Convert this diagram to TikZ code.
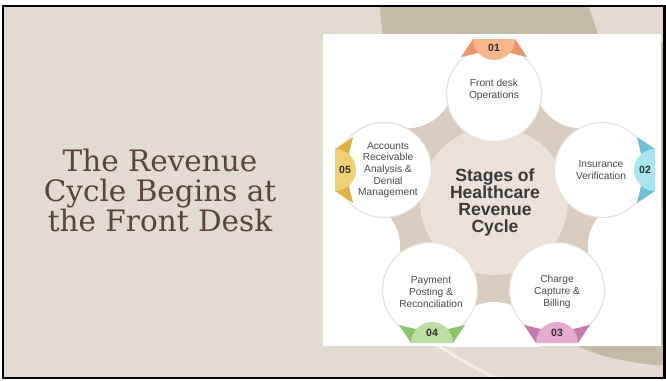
\documentclass[tikz,border=0pt]{standalone}
\usepackage{fontspec}
\setmainfont{Liberation Sans}
\newfontfamily\titlefont{DejaVu Serif}
\usetikzlibrary{calc}
\definecolor{bgc}{HTML}{E3DBD1}
\definecolor{olivec}{HTML}{C3BBA5}
\definecolor{creamc}{HTML}{F3EDE6}
\definecolor{titlec}{HTML}{5B4539}
\definecolor{tanc}{HTML}{D9CBBE}
\definecolor{centc}{HTML}{EBE1D8}
\definecolor{shadowc}{HTML}{E6E1DB}
\definecolor{txtc}{HTML}{4A4A4A}
\definecolor{numc}{HTML}{2F2F2F}
\definecolor{ctrc}{HTML}{3A3A3A}
\definecolor{oL}{HTML}{F9B68D}\definecolor{oD}{HTML}{E8956B}
\definecolor{bL}{HTML}{A9E4F1}\definecolor{bD}{HTML}{6CC2D6}
\definecolor{pL}{HTML}{E4AAD2}\definecolor{pD}{HTML}{C67BB0}
\definecolor{gL}{HTML}{BADDA3}\definecolor{gD}{HTML}{8CC46C}
\definecolor{yL}{HTML}{F2CF73}\definecolor{yD}{HTML}{DDB04A}
\newcommand\numtab[5]{%
  \begin{scope}[shift={(#1,#2)},rotate=#3]
    \fill[#5] (-21,0) -- (-33,18) -- (-12,13) -- cycle;
    \fill[#5] (21,0) -- (33,18) -- (12,13) -- cycle;
    \fill[#4] (-21,0) arc (180:0:21) -- cycle;
  \end{scope}}
\begin{document}
\begin{tikzpicture}[x=1pt,y=-1pt,
  stagecircle/.style={circle,fill=white,draw=shadowc,line width=1.2pt,minimum size=95pt,inner sep=0pt},
  stagetext/.style={font=\fontsize{10.2}{11.7}\selectfont,text=txtc,align=center,inner sep=0pt},
  numtext/.style={font=\bfseries\fontsize{10.5}{12}\selectfont,text=numc,inner sep=0pt},
  titleline/.style={font=\titlefont\fontsize{29.5}{30}\selectfont,text=titlec,anchor=base,inner sep=0pt}]
\useasboundingbox (0,0) rectangle (666,380);
\fill[white] (0,0) rectangle (666,380);
\begin{scope}
  \clip (3,6) rectangle (664.5,378);
  \fill[bgc] (3,6) rectangle (664.5,378);
  \fill[olivec] (380,4) -- (588,4) .. controls (592,16) and (595,26) .. (600,40)
     -- (640,42) -- (666,42) -- (666,366)
     .. controls (630,363) and (600,357) .. (577,346)
     -- (500,300) -- (392,100) .. controls (386,60) and (381,30) .. (380,4) -- cycle;
  \draw[creamc,line width=3pt] (436,344) .. controls (456,357) and (476,369) .. (500,380);
\end{scope}
% title
\node[titleline] (t1) at (160,171) {The Revenue};
\node[titleline] (t2) at (160,201) {Cycle Begins at};
\node[titleline] (t3) at (160,231) {the Front Desk};
% panel
\fill[white] (323,34) rectangle (661,346);
\coordinate (c) at (494,201);
\begin{scope}
  \clip (323,34) rectangle (661,346);
  \fill[tanc] (c) circle[radius=130];
  \foreach \a in {54,-18,-90,198,126}
    \fill[white] ($(c)+(\a:148 and -148)$) circle[radius=47];
\end{scope}
\fill[centc] (c) circle[radius=74];
% stage circles
\node[stagecircle] (n1) at (494,94) {};
\node[stagecircle] (n2) at (602,170) {};
\node[stagecircle] (n3) at (557,290) {};
\node[stagecircle] (n4) at (430,290) {};
\node[stagecircle] (n5) at (384,170) {};
% tabs
\numtab{494}{39}{0}{oL}{oD}
\numtab{655}{170}{-90}{bL}{bD}
\numtab{557}{343}{180}{pL}{pD}
\numtab{432}{343}{180}{gL}{gD}
\numtab{335}{170}{90}{yL}{yD}
\node[numtext] (k1) at (494,48) {01};
\node[numtext] (k2) at (645,170) {02};
\node[numtext] (k3) at (557,333) {03};
\node[numtext] (k4) at (432,333) {04};
\node[numtext] (k5) at (345,170) {05};
% texts
\node[stagetext] (s1) at (494,90) {Front desk\\Operations};
\node[stagetext] (s2) at (601,170) {Insurance\\Verification};
\node[stagetext] (s3) at (557,292) {Charge\\Capture \&\\Billing};
\node[stagetext] (s4) at (431,292) {Payment\\Posting \&\\Reconciliation};
\node[stagetext] (s5) at (388,170) {Accounts\\Receivable\\Analysis \&\\Denial\\Management};
\node[font=\bfseries\fontsize{17.6}{17}\selectfont,text=ctrc,align=center,inner sep=0pt] (ctr) at (495,202) {Stages of\\Healthcare\\Revenue\\Cycle};
% frame
\draw[black,line width=2.5pt] (3,6) rectangle (664.5,378);
\end{tikzpicture}
\end{document}
